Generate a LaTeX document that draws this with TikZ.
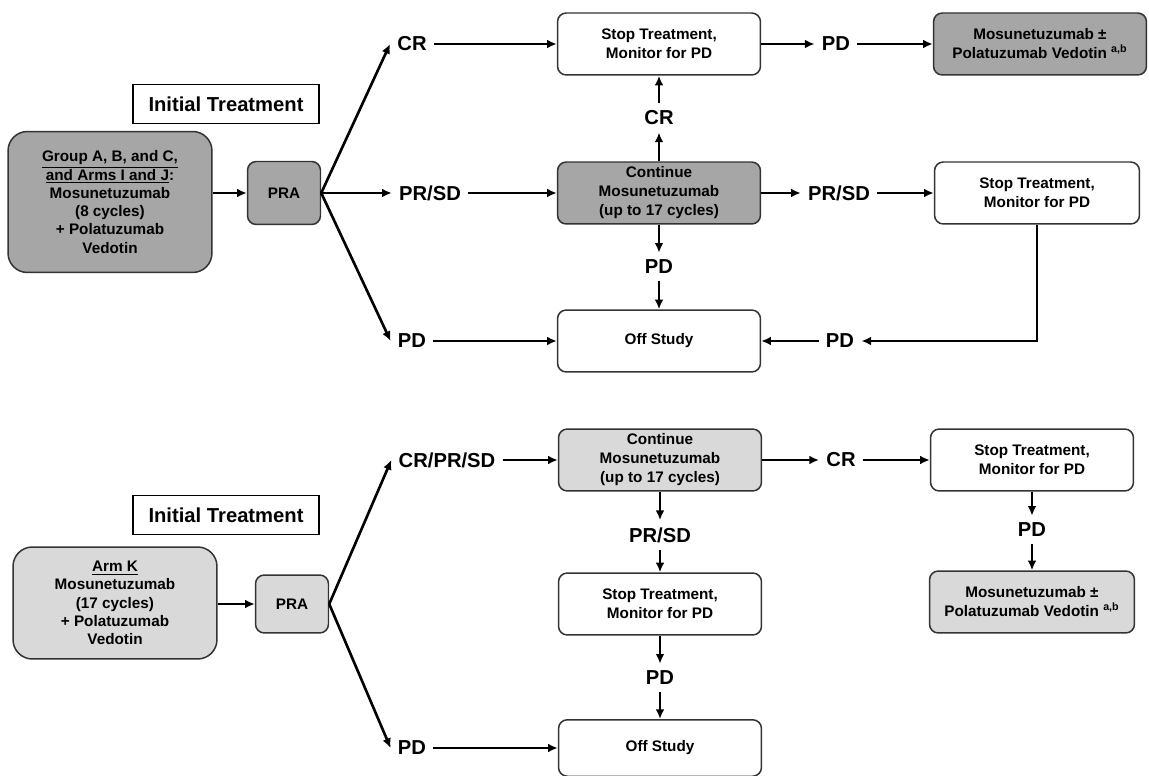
\documentclass[tikz,border=0pt]{standalone}
\usepackage{fontspec}
\setmainfont{Liberation Sans}
\usepackage{tikz}
\usetikzlibrary{arrows.meta,positioning}
\definecolor{darkgrey}{RGB}{166,166,166}
\definecolor{lightgrey}{RGB}{217,217,217}

\begin{document}
\begin{tikzpicture}[
  x=0.02cm, y=-0.02cm,
  box/.style={draw=black!80, line width=0.85pt, rounded corners=5pt, align=center,
    minimum width=4.06cm, minimum height=1.24cm, inner sep=2pt,
    font=\bfseries\fontsize{8.7}{10.8}\selectfont},
  whitebox/.style={box, fill=white},
  darkbox/.style={box, fill=darkgrey},
  lightbox/.style={box, fill=lightgrey},
  armbox/.style={minimum width=4.08cm, rounded corners=11pt, font=\bfseries\fontsize{8.7}{10.4}\selectfont},
  prabox/.style={minimum width=1.46cm, minimum height=1.2cm},
  lbl/.style={font=\bfseries\fontsize{11.5}{14}\selectfont, inner sep=4pt},
  titlebox/.style={draw, line width=0.6pt, minimum width=3.72cm, minimum height=0.77cm,
    font=\bfseries\fontsize{11.5}{14}\selectfont},
  arr/.style={-{Latex[length=5.5pt,width=5pt]}, line width=1.5pt}
]
\useasboundingbox (0,0) rectangle (1149,776);

\node[titlebox] (init1) at (226,104) {Initial Treatment};
\node[darkbox, armbox, minimum height=2.82cm] (grp) at (110,202)
  {\underline{Group A, B, and C,}\\ \underline{and Arms I and J}:\\ Mosunetuzumab\\ (8 cycles)\\ + Polatuzumab\\ Vedotin};
\node[darkbox, prabox, minimum height=1.26cm] (pra1) at (284,193) {PRA};
\node[lbl] (cr1) at (412,44) {CR};
\node[lbl] (prsd1) at (430,193) {PR/SD};
\node[lbl] (pd1) at (412,341) {PD};
\node[whitebox] (stop1) at (659,44) {Stop Treatment,\\ Monitor for PD};
\node[lbl] (cr2) at (659,118) {CR};
\node[darkbox] (cont1) at (659,193) {Continue\\ Mosunetuzumab\\ (up to 17 cycles)};
\node[lbl] (pd2) at (659,267) {PD};
\node[whitebox] (off1) at (659,341) {Off Study};
\node[lbl] (pd3) at (836,44) {PD};
\node[darkbox, minimum width=4.26cm] (mos1) at (1040,44) {Mosunetuzumab ±\\ Polatuzumab Vedotin \textsuperscript{a,b}};
\node[lbl] (prsd2) at (839,193) {PR/SD};
\node[whitebox, minimum width=4.1cm] (stop2) at (1037,193) {Stop Treatment,\\ Monitor for PD};
\node[lbl] (pd4) at (840,341) {PD};

\path (grp.east |- pra1) edge[arr] (pra1)
(pra1.east) edge[arr] (cr1.west)
(pra1.east) edge[arr] (prsd1.west)
(pra1.east) edge[arr] (pd1.west)
(cr1) edge[arr] (stop1)
(prsd1) edge[arr] (cont1)
(pd1) edge[arr] (off1)
(cont1) edge[arr] (cr2)
(cr2) edge[arr] (stop1)
(cont1) edge[arr] (pd2)
(pd2) edge[arr] (off1)
(stop1) edge[arr] (pd3)
(pd3) edge[arr] (mos1)
(cont1) edge[arr] (prsd2)
(prsd2) edge[arr] (stop2)
(pd4) edge[arr] (off1);
\draw[arr] (stop2.south) |- (pd4.east);

\node[titlebox] (init2) at (226,515) {Initial Treatment};
\node[lightbox, armbox, minimum height=2.24cm] (armk) at (115,603)
  {\underline{Arm K}\\ Mosunetuzumab\\ (17 cycles)\\ + Polatuzumab\\ Vedotin};
\node[lightbox, prabox, minimum height=1.16cm] (pra2) at (292,604) {PRA};
\node[lbl] (crprsd) at (447,460) {CR/PR/SD};
\node[lbl] (pd5) at (412,748) {PD};
\node[lightbox] (cont2) at (660,460) {Continue\\ Mosunetuzumab\\ (up to 17 cycles)};
\node[lbl] (prsd3) at (660,535) {PR/SD};
\node[whitebox] (stop4) at (660,604) {Stop Treatment,\\ Monitor for PD};
\node[lbl] (pd6) at (660,678) {PD};
\node[whitebox, minimum height=1.13cm] (off2) at (660,748) {Off Study};
\node[lbl] (cr3) at (841,460) {CR};
\node[whitebox] (stop3) at (1032,460) {Stop Treatment,\\ Monitor for PD};
\node[lbl] (pd7) at (1032,530) {PD};
\node[lightbox, minimum width=4.1cm] (mos2) at (1032,602) {Mosunetuzumab ±\\ Polatuzumab Vedotin \textsuperscript{a,b}};

\path (armk.east |- pra2) edge[arr] (pra2)
(pra2.east) edge[arr] (crprsd.west)
(pra2.east) edge[arr] (pd5.west)
(crprsd) edge[arr] (cont2)
(pd5) edge[arr] (off2)
(cont2) edge[arr] (prsd3)
(prsd3) edge[arr] (stop4)
(stop4) edge[arr] (pd6)
(pd6) edge[arr] (off2)
(cont2) edge[arr] (cr3)
(cr3) edge[arr] (stop3)
(stop3) edge[arr] (pd7)
(pd7) edge[arr] (mos2);

\end{tikzpicture}
\end{document}
